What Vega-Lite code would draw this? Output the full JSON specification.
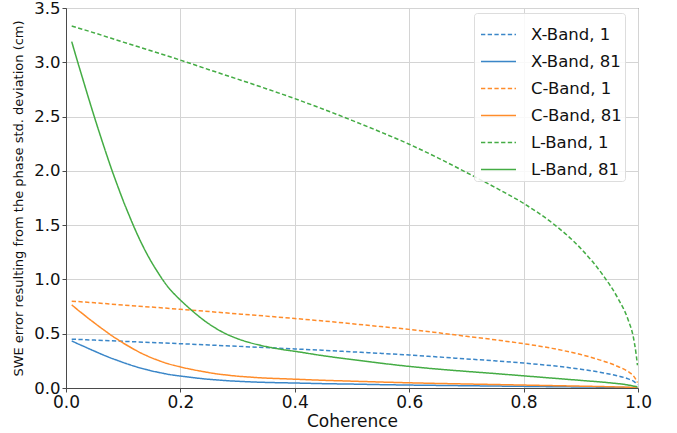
{
  "$schema": "https://vega.github.io/schema/vega-lite/v6.json",
  "autosize": {"type": "none"},
  "padding": {"left": 66, "top": 8, "right": 39, "bottom": 45},
  "width": 572,
  "height": 380,
  "background": "white",
  "config": {
    "font": "DejaVu Sans",
    "view": {"stroke": "#4a4a4a", "strokeWidth": 1},
    "axis": {
      "labelFont": "DejaVu Sans",
      "titleFont": "DejaVu Sans",
      "labelColor": "#111",
      "titleColor": "#111",
      "titleFontWeight": "normal",
      "domainColor": "#4a4a4a",
      "tickColor": "#4a4a4a",
      "tickSize": 4,
      "gridColor": "#d4d4d4",
      "gridWidth": 1
    }
  },
  "data": {
    "values": [
      {"series": "X-Band, 1", "coherence": 0.01, "swe": 0.45},
      {"series": "X-Band, 1", "coherence": 0.05, "swe": 0.441},
      {"series": "X-Band, 1", "coherence": 0.1, "swe": 0.43},
      {"series": "X-Band, 1", "coherence": 0.15, "swe": 0.419},
      {"series": "X-Band, 1", "coherence": 0.2, "swe": 0.408},
      {"series": "X-Band, 1", "coherence": 0.25, "swe": 0.396},
      {"series": "X-Band, 1", "coherence": 0.3, "swe": 0.384},
      {"series": "X-Band, 1", "coherence": 0.35, "swe": 0.372},
      {"series": "X-Band, 1", "coherence": 0.4, "swe": 0.36},
      {"series": "X-Band, 1", "coherence": 0.45, "swe": 0.347},
      {"series": "X-Band, 1", "coherence": 0.5, "swe": 0.333},
      {"series": "X-Band, 1", "coherence": 0.55, "swe": 0.319},
      {"series": "X-Band, 1", "coherence": 0.6, "swe": 0.304},
      {"series": "X-Band, 1", "coherence": 0.65, "swe": 0.286},
      {"series": "X-Band, 1", "coherence": 0.7, "swe": 0.268},
      {"series": "X-Band, 1", "coherence": 0.75, "swe": 0.25},
      {"series": "X-Band, 1", "coherence": 0.8, "swe": 0.23},
      {"series": "X-Band, 1", "coherence": 0.85, "swe": 0.205},
      {"series": "X-Band, 1", "coherence": 0.9, "swe": 0.173},
      {"series": "X-Band, 1", "coherence": 0.94, "swe": 0.139},
      {"series": "X-Band, 1", "coherence": 0.965, "swe": 0.111},
      {"series": "X-Band, 1", "coherence": 0.983, "swe": 0.084},
      {"series": "X-Band, 1", "coherence": 0.992, "swe": 0.063},
      {"series": "X-Band, 1", "coherence": 0.997, "swe": 0.041},
      {"series": "X-Band, 1", "coherence": 0.999, "swe": 0.028},

      {"series": "X-Band, 81", "coherence": 0.01, "swe": 0.434},
      {"series": "X-Band, 81", "coherence": 0.02, "swe": 0.409},
      {"series": "X-Band, 81", "coherence": 0.03, "swe": 0.386},
      {"series": "X-Band, 81", "coherence": 0.04, "swe": 0.362},
      {"series": "X-Band, 81", "coherence": 0.05, "swe": 0.339},
      {"series": "X-Band, 81", "coherence": 0.06, "swe": 0.316},
      {"series": "X-Band, 81", "coherence": 0.07, "swe": 0.294},
      {"series": "X-Band, 81", "coherence": 0.08, "swe": 0.273},
      {"series": "X-Band, 81", "coherence": 0.09, "swe": 0.254},
      {"series": "X-Band, 81", "coherence": 0.1, "swe": 0.235},
      {"series": "X-Band, 81", "coherence": 0.11, "swe": 0.217},
      {"series": "X-Band, 81", "coherence": 0.12, "swe": 0.2},
      {"series": "X-Band, 81", "coherence": 0.13, "swe": 0.184},
      {"series": "X-Band, 81", "coherence": 0.14, "swe": 0.17},
      {"series": "X-Band, 81", "coherence": 0.15, "swe": 0.157},
      {"series": "X-Band, 81", "coherence": 0.16, "swe": 0.146},
      {"series": "X-Band, 81", "coherence": 0.17, "swe": 0.135},
      {"series": "X-Band, 81", "coherence": 0.18, "swe": 0.125},
      {"series": "X-Band, 81", "coherence": 0.19, "swe": 0.117},
      {"series": "X-Band, 81", "coherence": 0.2, "swe": 0.11},
      {"series": "X-Band, 81", "coherence": 0.22, "swe": 0.097},
      {"series": "X-Band, 81", "coherence": 0.24, "swe": 0.085},
      {"series": "X-Band, 81", "coherence": 0.26, "swe": 0.076},
      {"series": "X-Band, 81", "coherence": 0.28, "swe": 0.068},
      {"series": "X-Band, 81", "coherence": 0.3, "swe": 0.062},
      {"series": "X-Band, 81", "coherence": 0.32, "swe": 0.057},
      {"series": "X-Band, 81", "coherence": 0.34, "swe": 0.053},
      {"series": "X-Band, 81", "coherence": 0.36, "swe": 0.05},
      {"series": "X-Band, 81", "coherence": 0.38, "swe": 0.048},
      {"series": "X-Band, 81", "coherence": 0.4, "swe": 0.046},
      {"series": "X-Band, 81", "coherence": 0.45, "swe": 0.04},
      {"series": "X-Band, 81", "coherence": 0.5, "swe": 0.036},
      {"series": "X-Band, 81", "coherence": 0.55, "swe": 0.031},
      {"series": "X-Band, 81", "coherence": 0.6, "swe": 0.027},
      {"series": "X-Band, 81", "coherence": 0.65, "swe": 0.024},
      {"series": "X-Band, 81", "coherence": 0.7, "swe": 0.021},
      {"series": "X-Band, 81", "coherence": 0.75, "swe": 0.018},
      {"series": "X-Band, 81", "coherence": 0.8, "swe": 0.015},
      {"series": "X-Band, 81", "coherence": 0.85, "swe": 0.012},
      {"series": "X-Band, 81", "coherence": 0.9, "swe": 0.0095},
      {"series": "X-Band, 81", "coherence": 0.95, "swe": 0.0065},
      {"series": "X-Band, 81", "coherence": 0.98, "swe": 0.0041},
      {"series": "X-Band, 81", "coherence": 0.999, "swe": 0.0014},

      {"series": "C-Band, 1", "coherence": 0.01, "swe": 0.8},
      {"series": "C-Band, 1", "coherence": 0.05, "swe": 0.785},
      {"series": "C-Band, 1", "coherence": 0.1, "swe": 0.764},
      {"series": "C-Band, 1", "coherence": 0.15, "swe": 0.745},
      {"series": "C-Band, 1", "coherence": 0.2, "swe": 0.725},
      {"series": "C-Band, 1", "coherence": 0.25, "swe": 0.704},
      {"series": "C-Band, 1", "coherence": 0.3, "swe": 0.683},
      {"series": "C-Band, 1", "coherence": 0.35, "swe": 0.662},
      {"series": "C-Band, 1", "coherence": 0.4, "swe": 0.64},
      {"series": "C-Band, 1", "coherence": 0.45, "swe": 0.617},
      {"series": "C-Band, 1", "coherence": 0.5, "swe": 0.592},
      {"series": "C-Band, 1", "coherence": 0.55, "swe": 0.566},
      {"series": "C-Band, 1", "coherence": 0.6, "swe": 0.54},
      {"series": "C-Band, 1", "coherence": 0.65, "swe": 0.509},
      {"series": "C-Band, 1", "coherence": 0.7, "swe": 0.476},
      {"series": "C-Band, 1", "coherence": 0.75, "swe": 0.444},
      {"series": "C-Band, 1", "coherence": 0.8, "swe": 0.408},
      {"series": "C-Band, 1", "coherence": 0.85, "swe": 0.365},
      {"series": "C-Band, 1", "coherence": 0.9, "swe": 0.308},
      {"series": "C-Band, 1", "coherence": 0.94, "swe": 0.247},
      {"series": "C-Band, 1", "coherence": 0.965, "swe": 0.198},
      {"series": "C-Band, 1", "coherence": 0.983, "swe": 0.15},
      {"series": "C-Band, 1", "coherence": 0.992, "swe": 0.112},
      {"series": "C-Band, 1", "coherence": 0.997, "swe": 0.072},
      {"series": "C-Band, 1", "coherence": 0.999, "swe": 0.05},

      {"series": "C-Band, 81", "coherence": 0.01, "swe": 0.766},
      {"series": "C-Band, 81", "coherence": 0.02, "swe": 0.722},
      {"series": "C-Band, 81", "coherence": 0.03, "swe": 0.68},
      {"series": "C-Band, 81", "coherence": 0.04, "swe": 0.638},
      {"series": "C-Band, 81", "coherence": 0.05, "swe": 0.598},
      {"series": "C-Band, 81", "coherence": 0.06, "swe": 0.558},
      {"series": "C-Band, 81", "coherence": 0.07, "swe": 0.52},
      {"series": "C-Band, 81", "coherence": 0.08, "swe": 0.482},
      {"series": "C-Band, 81", "coherence": 0.09, "swe": 0.448},
      {"series": "C-Band, 81", "coherence": 0.1, "swe": 0.414},
      {"series": "C-Band, 81", "coherence": 0.11, "swe": 0.383},
      {"series": "C-Band, 81", "coherence": 0.12, "swe": 0.353},
      {"series": "C-Band, 81", "coherence": 0.13, "swe": 0.325},
      {"series": "C-Band, 81", "coherence": 0.14, "swe": 0.3},
      {"series": "C-Band, 81", "coherence": 0.15, "swe": 0.277},
      {"series": "C-Band, 81", "coherence": 0.16, "swe": 0.257},
      {"series": "C-Band, 81", "coherence": 0.17, "swe": 0.238},
      {"series": "C-Band, 81", "coherence": 0.18, "swe": 0.221},
      {"series": "C-Band, 81", "coherence": 0.19, "swe": 0.207},
      {"series": "C-Band, 81", "coherence": 0.2, "swe": 0.194},
      {"series": "C-Band, 81", "coherence": 0.22, "swe": 0.171},
      {"series": "C-Band, 81", "coherence": 0.24, "swe": 0.151},
      {"series": "C-Band, 81", "coherence": 0.26, "swe": 0.133},
      {"series": "C-Band, 81", "coherence": 0.28, "swe": 0.12},
      {"series": "C-Band, 81", "coherence": 0.3, "swe": 0.109},
      {"series": "C-Band, 81", "coherence": 0.32, "swe": 0.101},
      {"series": "C-Band, 81", "coherence": 0.34, "swe": 0.094},
      {"series": "C-Band, 81", "coherence": 0.36, "swe": 0.089},
      {"series": "C-Band, 81", "coherence": 0.38, "swe": 0.085},
      {"series": "C-Band, 81", "coherence": 0.4, "swe": 0.081},
      {"series": "C-Band, 81", "coherence": 0.45, "swe": 0.071},
      {"series": "C-Band, 81", "coherence": 0.5, "swe": 0.063},
      {"series": "C-Band, 81", "coherence": 0.55, "swe": 0.055},
      {"series": "C-Band, 81", "coherence": 0.6, "swe": 0.048},
      {"series": "C-Band, 81", "coherence": 0.65, "swe": 0.042},
      {"series": "C-Band, 81", "coherence": 0.7, "swe": 0.037},
      {"series": "C-Band, 81", "coherence": 0.75, "swe": 0.032},
      {"series": "C-Band, 81", "coherence": 0.8, "swe": 0.027},
      {"series": "C-Band, 81", "coherence": 0.85, "swe": 0.022},
      {"series": "C-Band, 81", "coherence": 0.9, "swe": 0.017},
      {"series": "C-Band, 81", "coherence": 0.95, "swe": 0.0115},
      {"series": "C-Band, 81", "coherence": 0.98, "swe": 0.0072},
      {"series": "C-Band, 81", "coherence": 0.999, "swe": 0.0024},

      {"series": "L-Band, 1", "coherence": 0.01, "swe": 3.334},
      {"series": "L-Band, 1", "coherence": 0.05, "swe": 3.27},
      {"series": "L-Band, 1", "coherence": 0.1, "swe": 3.186},
      {"series": "L-Band, 1", "coherence": 0.15, "swe": 3.104},
      {"series": "L-Band, 1", "coherence": 0.2, "swe": 3.02},
      {"series": "L-Band, 1", "coherence": 0.25, "swe": 2.932},
      {"series": "L-Band, 1", "coherence": 0.3, "swe": 2.845},
      {"series": "L-Band, 1", "coherence": 0.35, "swe": 2.757},
      {"series": "L-Band, 1", "coherence": 0.4, "swe": 2.665},
      {"series": "L-Band, 1", "coherence": 0.45, "swe": 2.568},
      {"series": "L-Band, 1", "coherence": 0.5, "swe": 2.465},
      {"series": "L-Band, 1", "coherence": 0.55, "swe": 2.358},
      {"series": "L-Band, 1", "coherence": 0.6, "swe": 2.245},
      {"series": "L-Band, 1", "coherence": 0.65, "swe": 2.12},
      {"series": "L-Band, 1", "coherence": 0.7, "swe": 1.985},
      {"series": "L-Band, 1", "coherence": 0.75, "swe": 1.848},
      {"series": "L-Band, 1", "coherence": 0.8, "swe": 1.7},
      {"series": "L-Band, 1", "coherence": 0.85, "swe": 1.52},
      {"series": "L-Band, 1", "coherence": 0.9, "swe": 1.285},
      {"series": "L-Band, 1", "coherence": 0.94, "swe": 1.03},
      {"series": "L-Band, 1", "coherence": 0.965, "swe": 0.825},
      {"series": "L-Band, 1", "coherence": 0.983, "swe": 0.625},
      {"series": "L-Band, 1", "coherence": 0.992, "swe": 0.465},
      {"series": "L-Band, 1", "coherence": 0.997, "swe": 0.3},
      {"series": "L-Band, 1", "coherence": 0.999, "swe": 0.21},

      {"series": "L-Band, 81", "coherence": 0.01, "swe": 3.19},
      {"series": "L-Band, 81", "coherence": 0.02, "swe": 3.01},
      {"series": "L-Band, 81", "coherence": 0.03, "swe": 2.835},
      {"series": "L-Band, 81", "coherence": 0.04, "swe": 2.66},
      {"series": "L-Band, 81", "coherence": 0.05, "swe": 2.49},
      {"series": "L-Band, 81", "coherence": 0.06, "swe": 2.325},
      {"series": "L-Band, 81", "coherence": 0.07, "swe": 2.165},
      {"series": "L-Band, 81", "coherence": 0.08, "swe": 2.01},
      {"series": "L-Band, 81", "coherence": 0.09, "swe": 1.865},
      {"series": "L-Band, 81", "coherence": 0.1, "swe": 1.725},
      {"series": "L-Band, 81", "coherence": 0.11, "swe": 1.595},
      {"series": "L-Band, 81", "coherence": 0.12, "swe": 1.47},
      {"series": "L-Band, 81", "coherence": 0.13, "swe": 1.355},
      {"series": "L-Band, 81", "coherence": 0.14, "swe": 1.25},
      {"series": "L-Band, 81", "coherence": 0.15, "swe": 1.155},
      {"series": "L-Band, 81", "coherence": 0.16, "swe": 1.07},
      {"series": "L-Band, 81", "coherence": 0.17, "swe": 0.99},
      {"series": "L-Band, 81", "coherence": 0.18, "swe": 0.92},
      {"series": "L-Band, 81", "coherence": 0.19, "swe": 0.862},
      {"series": "L-Band, 81", "coherence": 0.2, "swe": 0.81},
      {"series": "L-Band, 81", "coherence": 0.22, "swe": 0.714},
      {"series": "L-Band, 81", "coherence": 0.24, "swe": 0.628},
      {"series": "L-Band, 81", "coherence": 0.26, "swe": 0.556},
      {"series": "L-Band, 81", "coherence": 0.28, "swe": 0.498},
      {"series": "L-Band, 81", "coherence": 0.3, "swe": 0.454},
      {"series": "L-Band, 81", "coherence": 0.32, "swe": 0.42},
      {"series": "L-Band, 81", "coherence": 0.34, "swe": 0.393},
      {"series": "L-Band, 81", "coherence": 0.36, "swe": 0.371},
      {"series": "L-Band, 81", "coherence": 0.38, "swe": 0.353},
      {"series": "L-Band, 81", "coherence": 0.4, "swe": 0.338},
      {"series": "L-Band, 81", "coherence": 0.45, "swe": 0.297},
      {"series": "L-Band, 81", "coherence": 0.5, "swe": 0.262},
      {"series": "L-Band, 81", "coherence": 0.55, "swe": 0.229},
      {"series": "L-Band, 81", "coherence": 0.6, "swe": 0.199},
      {"series": "L-Band, 81", "coherence": 0.65, "swe": 0.174},
      {"series": "L-Band, 81", "coherence": 0.7, "swe": 0.153},
      {"series": "L-Band, 81", "coherence": 0.75, "swe": 0.133},
      {"series": "L-Band, 81", "coherence": 0.8, "swe": 0.112},
      {"series": "L-Band, 81", "coherence": 0.85, "swe": 0.091},
      {"series": "L-Band, 81", "coherence": 0.9, "swe": 0.07},
      {"series": "L-Band, 81", "coherence": 0.95, "swe": 0.048},
      {"series": "L-Band, 81", "coherence": 0.98, "swe": 0.03},
      {"series": "L-Band, 81", "coherence": 0.999, "swe": 0.01}
    ]
  },
  "mark": {"type": "line", "interpolate": "monotone", "strokeWidth": 1.5, "clip": true},
  "encoding": {
    "x": {
      "field": "coherence",
      "type": "quantitative",
      "scale": {"domain": [0, 1], "nice": false, "zero": false},
      "axis": {
        "title": "Coherence",
        "values": [0, 0.2, 0.4, 0.6, 0.8, 1.0],
        "format": ".1f",
        "labelFontSize": 17,
        "titleFontSize": 17,
        "labelPadding": 2,
        "titlePadding": 3,
        "labelFlush": false
      }
    },
    "y": {
      "field": "swe",
      "type": "quantitative",
      "scale": {"domain": [0, 3.5], "nice": false},
      "axis": {
        "title": "SWE error resulting from the phase std. deviation (cm)",
        "values": [0, 0.5, 1.0, 1.5, 2.0, 2.5, 3.0, 3.5],
        "format": ".1f",
        "labelFontSize": 16.5,
        "titleFontSize": 13,
        "labelPadding": 2,
        "titlePadding": 8,
        "labelFlush": false
      }
    },
    "color": {
      "field": "series",
      "type": "nominal",
      "scale": {
        "domain": ["X-Band, 1", "X-Band, 81", "C-Band, 1", "C-Band, 81", "L-Band, 1", "L-Band, 81"],
        "range": ["#3a86c8", "#3a86c8", "#ff8c2a", "#ff8c2a", "#44ac44", "#44ac44"]
      },
      "legend": {
        "title": null,
        "orient": "none",
        "legendX": 408,
        "legendY": 5,
        "fillColor": "rgba(255,255,255,0.85)",
        "strokeColor": "#dddddd",
        "cornerRadius": 3,
        "padding": 3,
        "symbolOffset": 3,
        "symbolType": "stroke",
        "symbolSize": 1225,
        "symbolStrokeWidth": 1.5,
        "labelFontSize": 16.5,
        "labelFont": "DejaVu Sans",
        "labelColor": "#111",
        "labelOffset": 14,
        "rowPadding": -9.4,
        "labelLimit": 200
      }
    },
    "strokeDash": {
      "field": "series",
      "type": "nominal",
      "scale": {
        "domain": ["X-Band, 1", "X-Band, 81", "C-Band, 1", "C-Band, 81", "L-Band, 1", "L-Band, 81"],
        "range": [[4.3, 2.4], [1, 0], [4.3, 2.4], [1, 0], [4.3, 2.4], [1, 0]]
      }
    }
  }
}
